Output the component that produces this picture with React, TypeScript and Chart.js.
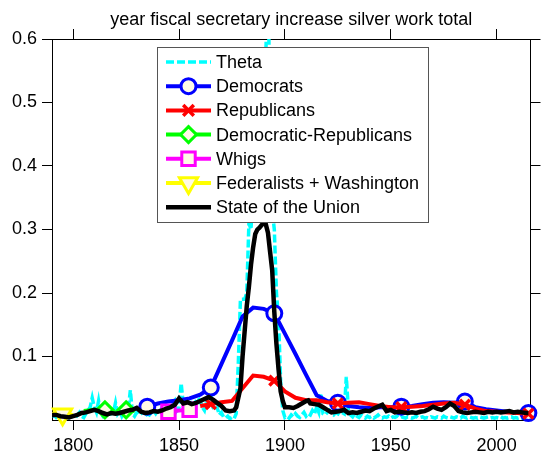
import React, { useEffect, useRef } from 'react';
import { Chart, registerables } from 'chart.js';
import { drawPoint } from 'chart.js/helpers';

Chart.register(...registerables);

const TITLE = 'year fiscal secretary increase silver work total';
const xTicks = [1800, 1850, 1900, 1950, 2000];
const yTicks = [0.1, 0.2, 0.3, 0.4, 0.5, 0.6];
const FONT = "'Liberation Sans', Arial, Helvetica, sans-serif";
const FS = 18;

// Theta (yearly from 1790)
const thetaFirstYear = 1790;
const thetaValues = [
  0.005, 0.008, 0.004, 0.006, 0.01, 0.005, 0.003, 0.006, 0.004, 0.008,
  0.005, 0.003, 0.008, 0.012, 0.006, 0.004, 0.01, 0.015, 0.02, 0.035,
  0.02, 0.012, 0.03, 0.01, 0.006, 0.012, 0.008, 0.015, 0.01, 0.012,
  0.027, 0.01, 0.015, 0.006, 0.012, 0.02, 0.015, 0.047, 0.01, 0.006,
  0.012, 0.008, 0.01, 0.015, 0.006, 0.01, 0.008, 0.012, 0.015, 0.01,
  0.015, 0.012, 0.02, 0.01, 0.015, 0.02, 0.012, 0.025, 0.03, 0.015,
  0.02, 0.058, 0.025, 0.015, 0.02, 0.015, 0.025, 0.02, 0.03, 0.035,
  0.03, 0.02, 0.015, 0.03, 0.025, 0.04, 0.02, 0.015, 0.02, 0.008,
  0.012, 0.005, 0.003, 0.006, 0.002, 0.004, 0.002, 0.01, 0.09, 0.19,
  0.19, 0.19, 0.2, 0.31, 0.3, 0.38, 0.33, 0.45, 0.5, 0.52,
  0.55, 0.58, 0.68, 0.5, 0.33, 0.3, 0.2, 0.16, 0.06, 0.015,
  0.004, 0.006, 0.003, 0.008, 0.005, 0.01, 0.006, 0.004, 0.008, 0.012,
  0.006, 0.01, 0.008, 0.015, 0.01, 0.02, 0.012, 0.042, 0.01, 0.008,
  0.012, 0.015, 0.01, 0.008, 0.012, 0.01, 0.008, 0.012, 0.01, 0.068,
  0.015, 0.008, 0.005, 0.01, 0.006, 0.004, 0.008, 0.005, 0.003, 0.006,
  0.004, 0.006, 0.003, 0.005, 0.008, 0.004, 0.003, 0.005, 0.004, 0.006,
  0.003, 0.005, 0.004, 0.006, 0.003, 0.005, 0.004, 0.003, 0.005, 0.004,
  0.003, 0.004, 0.006, 0.003, 0.004, 0.005, 0.003, 0.004, 0.003, 0.005,
  0.004, 0.003, 0.005, 0.004, 0.003, 0.006, 0.004, 0.003, 0.005, 0.004,
  0.003, 0.005, 0.004, 0.003, 0.006, 0.004, 0.003, 0.005, 0.004, 0.003,
  0.004, 0.003, 0.005, 0.004, 0.003, 0.004, 0.005, 0.003, 0.004, 0.003,
  0.004, 0.003, 0.005, 0.003, 0.004, 0.003, 0.004, 0.005, 0.003, 0.004,
  0.003, 0.004, 0.003, 0.005, 0.004, 0.003,
];

// Democrats
const demYears = [1835, 1840, 1845, 1850, 1855, 1860, 1865, 1870, 1875, 1880, 1885, 1890, 1895, 1900, 1905, 1910, 1915, 1920, 1925, 1930, 1935, 1940, 1945, 1950, 1955, 1960, 1965, 1970, 1975, 1980, 1985, 1990, 1995, 2000, 2005, 2010, 2015];
const demValues = [0.021, 0.026, 0.029, 0.031, 0.034, 0.04, 0.051, 0.088, 0.125, 0.163, 0.177, 0.175, 0.168, 0.136, 0.104, 0.071, 0.039, 0.03, 0.027, 0.022, 0.02, 0.019, 0.02, 0.02, 0.021, 0.022, 0.025, 0.027, 0.028, 0.027, 0.029, 0.02, 0.017, 0.015, 0.013, 0.012, 0.011];
const demMarkerYears = [1835, 1865, 1895, 1925, 1955, 1985, 2015];

// Republicans
const repYears = [1860, 1865, 1870, 1875, 1880, 1885, 1890, 1895, 1900, 1905, 1910, 1915, 1920, 1925, 1930, 1935, 1940, 1945, 1950, 1955, 1960, 1965, 1970, 1975, 1980, 1985, 1990, 1995, 2000, 2005, 2010, 2015];
const repValues = [0.022, 0.025, 0.028, 0.03, 0.05, 0.07, 0.068, 0.062, 0.045, 0.035, 0.031, 0.031, 0.028, 0.026, 0.027, 0.028, 0.025, 0.022, 0.02, 0.02, 0.021, 0.022, 0.024, 0.026, 0.027, 0.024, 0.018, 0.014, 0.013, 0.012, 0.011, 0.01];
const repMarkerYears = [1865, 1895, 1925, 1955, 1985, 2015];

// Democratic-Republicans
const drYears = [1805, 1810, 1815, 1820, 1825, 1829];
const drValues = [0.014, 0.016, 0.016, 0.012, 0.016, 0.014];
const drMarkerYears = [1815, 1825];

// Whigs
const whigYears = [1841, 1845, 1850, 1855, 1857];
const whigValues = [0.012, 0.013, 0.015, 0.016, 0.017];
const whigMarkerYears = [1845, 1855];

// Federalists + Washington
const fedYears = [1790, 1795, 1800];
const fedValues = [0.01, 0.009, 0.008];
const fedMarkerYears = [1795];

// State of the Union
const sotuYears = [1790, 1792, 1794, 1796, 1798, 1800, 1802, 1804, 1806, 1808, 1810, 1812, 1814, 1816, 1818, 1820, 1822, 1824, 1826, 1828, 1830, 1832, 1834, 1836, 1838, 1840, 1842, 1844, 1846, 1848, 1850, 1852, 1854, 1856, 1858, 1860, 1862, 1864, 1866, 1868, 1870, 1872, 1874, 1876, 1877, 1878, 1879, 1880, 1881, 1882, 1883, 1884, 1885, 1886, 1887, 1888, 1889, 1890, 1891, 1892, 1893, 1894, 1895, 1896, 1897, 1898, 1899, 1900, 1902, 1904, 1906, 1908, 1910, 1911, 1912, 1914, 1916, 1918, 1920, 1922, 1924, 1926, 1928, 1930, 1932, 1934, 1936, 1938, 1940, 1942, 1944, 1946, 1948, 1950, 1952, 1954, 1956, 1958, 1960, 1962, 1964, 1966, 1968, 1970, 1972, 1974, 1976, 1978, 1980, 1982, 1984, 1986, 1988, 1990, 1992, 1994, 1996, 1998, 2000, 2002, 2004, 2006, 2008, 2010, 2012, 2014, 2015];
const sotuValues = [0.008, 0.008, 0.006, 0.005, 0.004, 0.006, 0.008, 0.011, 0.012, 0.014, 0.016, 0.014, 0.011, 0.009, 0.011, 0.01, 0.011, 0.013, 0.015, 0.016, 0.019, 0.013, 0.011, 0.012, 0.014, 0.013, 0.015, 0.018, 0.02, 0.024, 0.034, 0.026, 0.028, 0.025, 0.027, 0.03, 0.033, 0.036, 0.032, 0.027, 0.022, 0.015, 0.014, 0.015, 0.02, 0.035, 0.05, 0.1, 0.14, 0.18, 0.21, 0.245, 0.272, 0.293, 0.3, 0.303, 0.307, 0.31, 0.308, 0.295, 0.265, 0.236, 0.17, 0.12, 0.08, 0.045, 0.03, 0.02, 0.02, 0.019, 0.022, 0.026, 0.03, 0.031, 0.026, 0.025, 0.024, 0.02, 0.016, 0.012, 0.013, 0.014, 0.016, 0.011, 0.012, 0.011, 0.013, 0.015, 0.014, 0.018, 0.021, 0.024, 0.014, 0.016, 0.012, 0.013, 0.012, 0.011, 0.012, 0.011, 0.013, 0.014, 0.017, 0.021, 0.018, 0.016, 0.02, 0.026, 0.022, 0.014, 0.012, 0.011, 0.012, 0.013, 0.012, 0.011, 0.013, 0.012, 0.013, 0.012, 0.013, 0.014, 0.012, 0.013, 0.012, 0.011, 0.011];

const MARKER_FILL = '#fffae6';

function pts(years: number[], values: number[]) {
  return years.map((x, i) => ({ x, y: values[i] }));
}
function radii(years: number[], marks: number[], r: number) {
  return years.map((y) => (marks.includes(y) ? r : 0));
}

const legendPlugin = {
  id: 'matlabLegend',
  afterDraw(chart: any, _args: any, opts: any) {
    const ctx = chart.ctx as CanvasRenderingContext2D;
    const { left, top, width, height, padTop, rowHeight, lineX0, lineX1, textX } = opts;
    ctx.save();
    ctx.fillStyle = '#ffffff';
    ctx.fillRect(left, top, width, height);
    ctx.strokeStyle = '#555555';
    ctx.lineWidth = 1;
    ctx.strokeRect(left + 0.5, top + 0.5, width, height);
    chart.data.datasets.forEach((ds: any, i: number) => {
      const y = top + padTop + i * rowHeight;
      ctx.save();
      ctx.strokeStyle = ds.borderColor;
      ctx.lineWidth = ds.borderWidth;
      ctx.setLineDash(ds.borderDash || []);
      ctx.beginPath();
      ctx.moveTo(lineX0, y);
      ctx.lineTo(lineX1, y);
      ctx.stroke();
      ctx.setLineDash([]);
      if (ds.legendRadius) {
        ctx.strokeStyle = ds.pointBorderColor;
        ctx.fillStyle = ds.pointBackgroundColor;
        ctx.lineWidth = ds.pointBorderWidth;
        drawPoint(ctx, { pointStyle: ds.pointStyle, rotation: ds.pointRotation || 0, radius: ds.legendRadius, borderWidth: ds.pointBorderWidth }, (lineX0 + lineX1) / 2, y);
      }
      ctx.restore();
      ctx.fillStyle = '#000000';
      ctx.font = `${FS}px ${FONT}`;
      ctx.textBaseline = 'middle';
      ctx.textAlign = 'left';
      ctx.fillText(ds.label, textX, y + 1);
    });
    ctx.restore();
  },
};

export default function App() {
  const ref = useRef<HTMLCanvasElement | null>(null);
  useEffect(() => {
    document.body.style.margin = '0';
    const canvas = ref.current;
    if (!canvas) return;
    const thetaYears = thetaValues.map((_, i) => thetaFirstYear + i);
    const tickFont = { family: FONT, size: FS };
    const axisCommon = (pos: string) => ({
      type: 'linear',
      position: pos,
      grid: { drawOnChartArea: false, drawTicks: true, tickLength: 10, color: '#000000', lineWidth: 1 },
      border: { display: true, color: '#000000', width: 1 },
    });
    const chart = new Chart(canvas, {
      type: 'line',
      data: {
        datasets: [
          {
            label: 'Theta',
            data: pts(thetaYears, thetaValues),
            borderColor: '#00ffff',
            borderWidth: 3.5,
            borderDash: [8, 3],
            pointRadius: 0,
            order: 7,
          },
          {
            label: 'Democrats',
            data: pts(demYears, demValues),
            borderColor: '#0000ff',
            borderWidth: 4,
            pointStyle: 'circle',
            pointRadius: radii(demYears, demMarkerYears, 7.5),
            legendRadius: 7.5,
            pointBorderColor: '#0000ff',
            pointBackgroundColor: MARKER_FILL,
            pointBorderWidth: 3,
            clip: false,
            order: 6,
          },
          {
            label: 'Republicans',
            data: pts(repYears, repValues),
            borderColor: '#ff0000',
            borderWidth: 4,
            pointStyle: 'crossRot',
            pointRadius: radii(repYears, repMarkerYears, 7),
            legendRadius: 7.5,
            pointBorderColor: '#ff0000',
            pointBackgroundColor: '#ff0000',
            pointBorderWidth: 3.5,
            clip: false,
            order: 5,
          },
          {
            label: 'Democratic-Republicans',
            data: pts(drYears, drValues),
            borderColor: '#00ff00',
            borderWidth: 4,
            pointStyle: 'rectRot',
            pointRadius: radii(drYears, drMarkerYears, 8),
            legendRadius: 8,
            pointBorderColor: '#00ff00',
            pointBackgroundColor: MARKER_FILL,
            pointBorderWidth: 3,
            clip: false,
            order: 4,
          },
          {
            label: 'Whigs',
            data: pts(whigYears, whigValues),
            borderColor: '#ff00ff',
            borderWidth: 4,
            pointStyle: 'rect',
            pointRadius: radii(whigYears, whigMarkerYears, 9.5),
            legendRadius: 9.5,
            pointBorderColor: '#ff00ff',
            pointBackgroundColor: MARKER_FILL,
            pointBorderWidth: 3,
            clip: false,
            order: 3,
          },
          {
            label: 'Federalists + Washington',
            data: pts(fedYears, fedValues),
            borderColor: '#ffff00',
            borderWidth: 4,
            pointStyle: 'triangle',
            pointRotation: 180,
            pointRadius: radii(fedYears, fedMarkerYears, 10.5),
            legendRadius: 10.5,
            pointBorderColor: '#ffff00',
            pointBackgroundColor: MARKER_FILL,
            pointBorderWidth: 3,
            clip: false,
            order: 2,
          },
          {
            label: 'State of the Union',
            data: pts(sotuYears, sotuValues),
            borderColor: '#000000',
            borderWidth: 4.5,
            pointRadius: 0,
            order: 1,
          },
        ] as any,
      },
      options: {
        responsive: false,
        animation: false,
        events: [],
        layout: { padding: 0 },
        plugins: {
          legend: { display: false },
          tooltip: { enabled: false },
          title: { display: false },
          matlabLegend: {
            left: 157,
            top: 47,
            width: 271,
            height: 175,
            padTop: 15,
            rowHeight: 24.2,
            lineX0: 166,
            lineX1: 211,
            textX: 216,
          },
        } as any,
        scales: {
          x: {
            ...axisCommon('bottom'),
            min: 1790,
            max: 2016,
            afterBuildTicks: (s: any) => { s.ticks = xTicks.map((v) => ({ value: v })); },
            ticks: { font: tickFont, color: '#000000', padding: 5, maxRotation: 0, autoSkip: false, callback: (v: any) => String(v) },
            afterFit: (s: any) => { s.height = 36; },
          },
          x2: {
            ...axisCommon('top'),
            min: 1790,
            max: 2016,
            afterBuildTicks: (s: any) => { s.ticks = xTicks.map((v) => ({ value: v })); },
            ticks: { display: false },
            title: {
              display: true,
              text: TITLE,
              color: '#000000',
              font: { family: FONT, size: FS, weight: 'normal' },
              padding: { top: 9, bottom: 0 },
            },
            afterFit: (s: any) => { s.height = 39; },
          },
          y: {
            ...axisCommon('left'),
            min: 0,
            max: 0.6,
            afterBuildTicks: (s: any) => { s.ticks = yTicks.map((v) => ({ value: v })); },
            ticks: { font: tickFont, color: '#000000', padding: 5, callback: (v: any) => Number(v).toFixed(1) },
            afterFit: (s: any) => { s.width = 52; },
          },
          y2: {
            ...axisCommon('right'),
            min: 0,
            max: 0.6,
            afterBuildTicks: (s: any) => { s.ticks = yTicks.map((v) => ({ value: v })); },
            ticks: { display: false },
            afterFit: (s: any) => { s.width = 4; },
          },
        } as any,
      },
      plugins: [legendPlugin as any],
    });
    return () => chart.destroy();
  }, []);
  return (
    <div style={{ position: 'relative', width: 541, height: 456, background: '#ffffff' }}>
      <canvas ref={ref} width={541} height={456} style={{ display: 'block' }} />
    </div>
  );
}
